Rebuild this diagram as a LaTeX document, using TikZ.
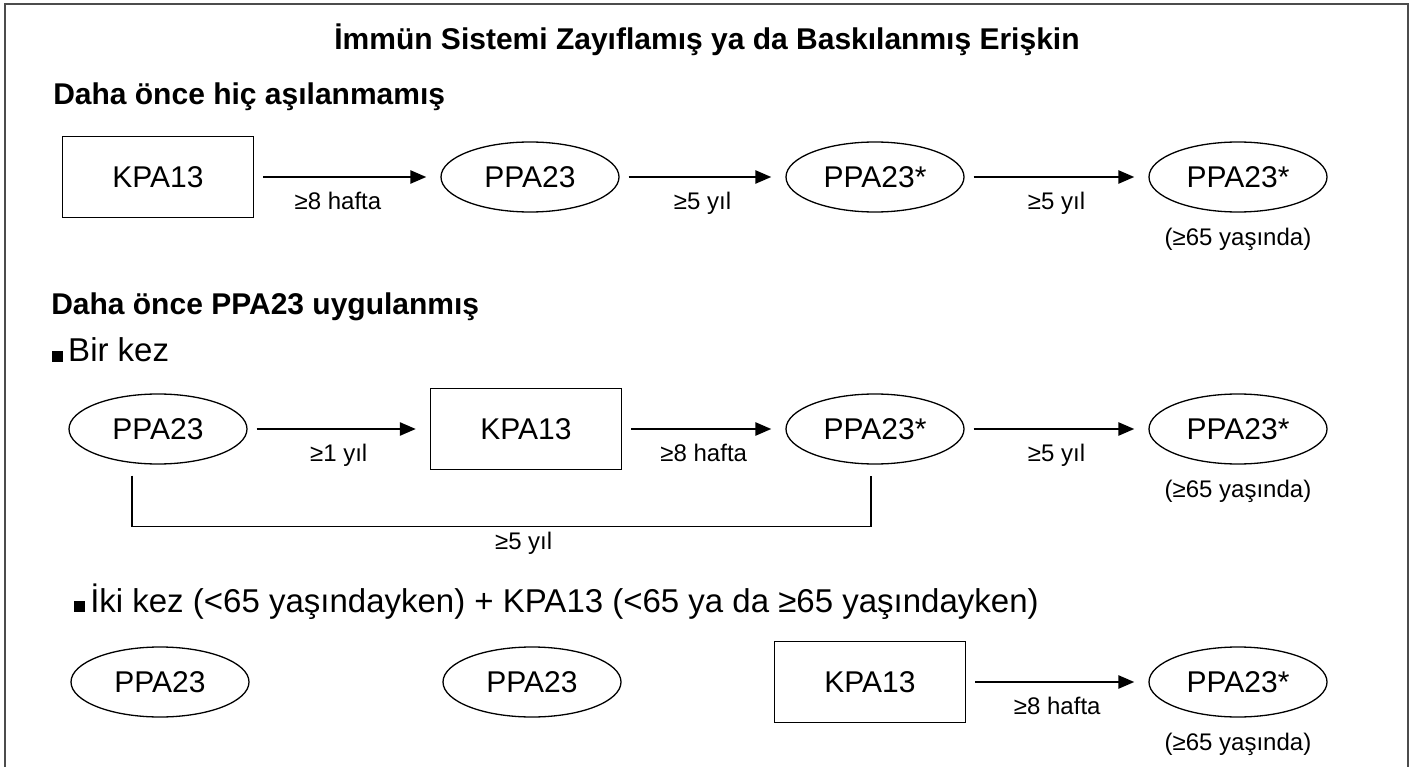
\documentclass[tikz,border=0pt]{standalone}
\usepackage{fontspec}
\setmainfont{Liberation Sans}
\usetikzlibrary{arrows.meta,shapes.geometric,positioning}

\begin{document}
\begin{tikzpicture}[x=1pt,y=-1pt,->,>={Triangle[length=16pt,width=13pt]},line width=2.5pt,
    shorten <=9pt,shorten >=14pt,node distance=360pt]
  \tikzstyle{asi}=[draw,line width=1.3pt,font=\fontsize{30}{36}\selectfont,inner sep=0pt]
  \tikzstyle{kpa}=[asi,rectangle,minimum width=191pt,minimum height=81pt]
  \tikzstyle{ppa}=[asi,ellipse,minimum width=178pt,minimum height=70pt]
  \tikzstyle{sure}=[font=\fontsize{24}{28}\selectfont,below=14pt,inner sep=0pt]
  \tikzstyle{baslik}=[font=\bfseries\fontsize{30}{36}\selectfont,inner sep=0pt]
  \tikzstyle{madde}=[font=\fontsize{33}{40}\selectfont,inner sep=0pt,anchor=base west]
  \useasboundingbox (0,0) rectangle (1414,767);
  \draw[-,shorten <=0pt,shorten >=0pt,line width=1.5pt,black!70] (5,767) -- (5,4) -- (1408,4) -- (1408,767);

  \node[baslik,anchor=base] (ust) at (707,50) {İmmün Sistemi Zayıflamış ya da Baskılanmış Erişkin};
  \node[baslik,anchor=base west] (hic) at (52,105) {Daha önce hiç aşılanmamış};
  \node[baslik,anchor=base west] (once) at (50,315) {Daha önce PPA23 uygulanmış};
  \node[madde] (bir) at (51,362) {\rule{11pt}{11pt}\hspace{5pt}Bir kez};
  \node[madde] (iki) at (73,612) {\rule{11pt}{11pt}\hspace{5pt}İki kez (<65 yaşındayken) + KPA13 (<65 ya da ≥65 yaşındayken)};

  % hic asilanmamis
  \node[kpa] (k11) at (158,177) {KPA13};
  \node[ppa] (p12) [right of=k11,node distance=372pt] {PPA23};
  \node[ppa] (p13) [right of=p12,node distance=345pt] {PPA23*};
  \node[ppa] (p14) [right of=p13,node distance=363pt] {PPA23*};
  \node[sure,below=14pt of p14] (y14) {(≥65 yaşında)};
  \path (k11) edge node[sure,pos=0.45] {≥8 hafta} (p12)
        (p12) edge node[sure] {≥5 yıl} (p13)
        (p13) edge node[sure] {≥5 yıl} (p14);

  % bir kez
  \node[ppa] (p21) at (158,429) {PPA23};
  \node[kpa] (k22) [right of=p21,node distance=368pt] {KPA13};
  \node[ppa] (p23) [right of=k22,node distance=349pt] {PPA23*};
  \node[ppa] (p24) [right of=p23,node distance=363pt] {PPA23*};
  \node[sure,below=14pt of p24] (y24) {(≥65 yaşında)};
  \path (p21) edge node[sure] {≥1 yıl} (k22)
        (k22) edge node[sure] {≥8 hafta} (p23)
        (p23) edge node[sure] {≥5 yıl} (p24);
  \coordinate (ka) at ([shift={(-26,11)}]p21.south);
  \coordinate (kb) at ([shift={(-4,11)}]p23.south);
  \draw[-,shorten <=0pt,shorten >=0pt,line width=1.3pt] (ka) -- ++(0,51) -| node[sure,pos=0.265,below=5pt] {≥5 yıl} (kb);

  % iki kez
  \node[ppa] (p31) at (160,682) {PPA23};
  \node[ppa] (p32) [right of=p31,node distance=372pt] {PPA23};
  \node[kpa] (k33) [right of=p32,node distance=338pt] {KPA13};
  \node[ppa] (p34) [right of=k33,node distance=368pt] {PPA23*};
  \node[sure,below=14pt of p34] (y34) {(≥65 yaşında)};
  \path (k33) edge node[sure] {≥8 hafta} (p34);
\end{tikzpicture}
\end{document}
